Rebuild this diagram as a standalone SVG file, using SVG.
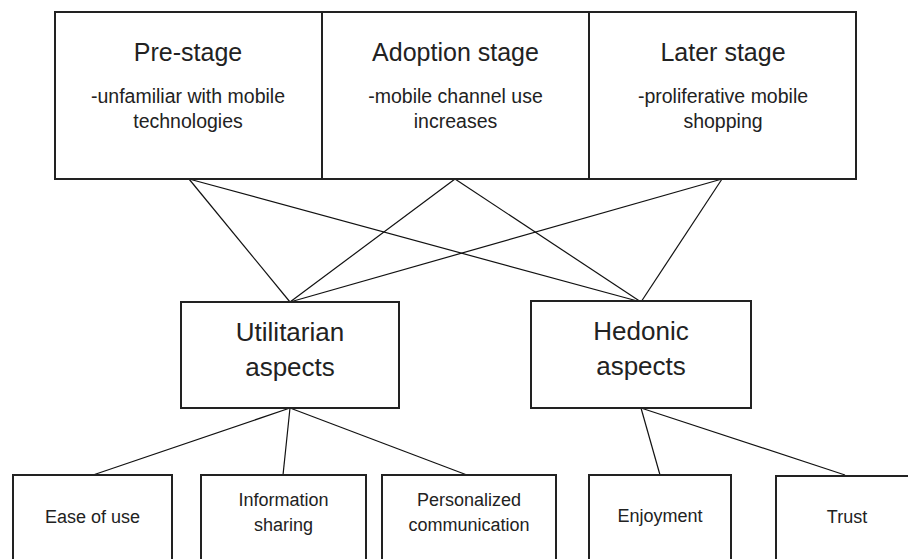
<svg xmlns="http://www.w3.org/2000/svg" width="908" height="559" viewBox="0 0 908 559">
<style>
.box{fill:#fff;stroke:#222;stroke-width:2}
.t{font-family:"Liberation Sans",Arial,sans-serif;fill:#222;text-anchor:middle}
.title{font-size:25px}
.sub{font-size:19.5px}
.mid{font-size:26px}
.leaf{font-size:18px}
.conn line{stroke:#111;stroke-width:1.2}
</style>
<rect width="908" height="559" fill="#fff"/>
<g class="conn">
<line x1="189" y1="179" x2="290" y2="302"/>
<line x1="189" y1="179" x2="641" y2="302"/>
<line x1="455" y1="179" x2="290" y2="302"/>
<line x1="455" y1="179" x2="641" y2="302"/>
<line x1="722" y1="179" x2="290" y2="302"/>
<line x1="722" y1="179" x2="641" y2="302"/>
<line x1="290" y1="408" x2="93" y2="475"/>
<line x1="290" y1="408" x2="283" y2="475"/>
<line x1="290" y1="408" x2="467" y2="475"/>
<line x1="641" y1="408" x2="660" y2="475"/>
<line x1="641" y1="408" x2="845" y2="475"/>
</g>
<g id="pre-stage">
<rect class="box" x="55" y="12" width="267" height="167"/>
<text class="t title" x="188" y="61">Pre-stage</text>
<text class="t sub" x="188" y="103">-unfamiliar with mobile</text>
<text class="t sub" x="188" y="128">technologies</text>
</g>
<g id="adoption-stage">
<rect class="box" x="322" y="12" width="267" height="167"/>
<text class="t title" x="455.5" y="61">Adoption stage</text>
<text class="t sub" x="455.5" y="103">-mobile channel use</text>
<text class="t sub" x="455.5" y="128">increases</text>
</g>
<g id="later-stage">
<rect class="box" x="589" y="12" width="267" height="167"/>
<text class="t title" x="723" y="61">Later stage</text>
<text class="t sub" x="723" y="103">-proliferative mobile</text>
<text class="t sub" x="723" y="128">shopping</text>
</g>
<g id="utilitarian">
<rect class="box" x="181" y="302" width="218" height="106"/>
<text class="t mid" x="290" y="341">Utilitarian</text>
<text class="t mid" x="290" y="376">aspects</text>
</g>
<g id="hedonic">
<rect class="box" x="531" y="301" width="220" height="107"/>
<text class="t mid" x="641" y="340">Hedonic</text>
<text class="t mid" x="641" y="375">aspects</text>
</g>
<g id="ease-of-use">
<rect class="box" x="13" y="475" width="159" height="110"/>
<text class="t leaf" x="92.5" y="523">Ease of use</text>
</g>
<g id="information-sharing">
<rect class="box" x="201" y="475" width="165" height="110"/>
<text class="t leaf" x="283.5" y="506">Information</text>
<text class="t leaf" x="283.5" y="531">sharing</text>
</g>
<g id="personalized-communication">
<rect class="box" x="382" y="475" width="174" height="110"/>
<text class="t leaf" x="469" y="506">Personalized</text>
<text class="t leaf" x="469" y="531">communication</text>
</g>
<g id="enjoyment">
<rect class="box" x="589" y="475" width="142" height="110"/>
<text class="t leaf" x="660" y="522">Enjoyment</text>
</g>
<g id="trust">
<rect class="box" x="776" y="476" width="142" height="110"/>
<text class="t leaf" x="847" y="523">Trust</text>
</g>
</svg>
